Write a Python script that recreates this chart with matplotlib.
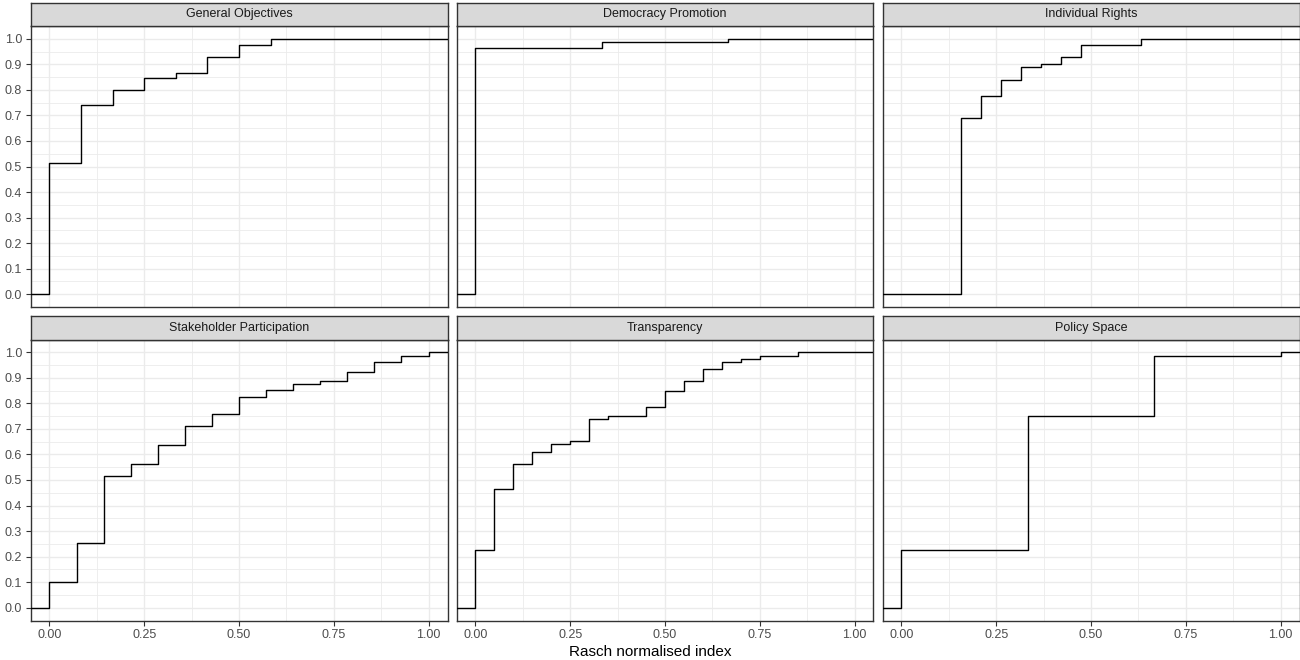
import matplotlib
matplotlib.use("Agg")
import matplotlib.pyplot as plt
import numpy as np

plt.rcParams['font.family'] = ['Liberation Sans', 'DejaVu Sans']

# facet titles, in panel order
panels = ["General Objectives", "Democracy Promotion", "Individual Rights",
          "Stakeholder Participation", "Transparency", "Policy Space"]

# ECDF jump positions (x) and cumulative share after each jump (y)
go_x = [0, 1/12, 2/12, 3/12, 4/12, 5/12, 6/12, 7/12]
go_y = [0.514, 0.739, 0.80, 0.848, 0.865, 0.927, 0.975, 1.0]

dp_x = [0, 1/3, 2/3]
dp_y = [0.963, 0.988, 1.0]

ir_x = [3/19, 4/19, 5/19, 6/19, 7/19, 8/19, 9/19, 12/19]
ir_y = [0.69, 0.775, 0.838, 0.889, 0.902, 0.927, 0.975, 1.0]

sp_x = [i / 14 for i in range(15)]
sp_y = [0.10, 0.253, 0.514, 0.561, 0.638, 0.711, 0.760, 0.826,
        0.852, 0.874, 0.888, 0.924, 0.961, 0.984, 1.0]

tr_x = [0, 0.05, 0.10, 0.15, 0.20, 0.25, 0.30, 0.35, 0.45, 0.50,
        0.55, 0.60, 0.65, 0.70, 0.75, 0.85]
tr_y = [0.225, 0.465, 0.5625, 0.611, 0.639, 0.651, 0.737, 0.749, 0.785,
        0.850, 0.887, 0.936, 0.961, 0.973, 0.984, 1.0]

ps_x = [0, 1/3, 2/3, 1.0]
ps_y = [0.225, 0.749, 0.984, 1.0]

series = [(go_x, go_y), (dp_x, dp_y), (ir_x, ir_y),
          (sp_x, sp_y), (tr_x, tr_y), (ps_x, ps_y)]

x_ticks = [0, 0.25, 0.5, 0.75, 1.0]
x_labels = ["0.00", "0.25", "0.50", "0.75", "1.00"]
y_ticks = [round(0.1 * i, 1) for i in range(11)]
y_labels = ["%.1f" % v for v in y_ticks]

W, H = 1300, 660
fig = plt.figure(figsize=(W / 100, H / 100), dpi=100)

lefts = [30.5, 456.5, 882.5]
pw = 417
rows = [(3, 26, 307), (315.5, 339.5, 620.5)]  # strip top, plot top, plot bottom

xlim = (-0.05, 1.05)
ylim = (-0.05, 1.05)
edge = '#333333'

for i, name in enumerate(panels):
    r, c = divmod(i, 3)
    st, pt, pb = rows[r]
    l = lefts[c]
    ax = fig.add_axes([l / W, 1 - pb / H, pw / W, (pb - pt) / H])
    sax = fig.add_axes([l / W, 1 - pt / H, pw / W, (pt - st) / H])

    xs, ys = series[i]
    sx = [xlim[0]] + list(xs) + [xlim[1]]
    sy = [0] + list(ys) + [ys[-1]]
    ax.step(sx, sy, where='post', color='black', lw=1.0, zorder=3)

    ax.set_xlim(xlim)
    ax.set_ylim(ylim)
    ax.set_xticks(x_ticks)
    ax.set_xticks([0.125, 0.375, 0.625, 0.875], minor=True)
    ax.set_yticks(y_ticks)
    ax.set_yticks(np.arange(0.05, 1.0, 0.1), minor=True)
    ax.grid(which='major', color='#EBEBEB', lw=1.0, zorder=0)
    ax.grid(which='minor', color='#EBEBEB', lw=0.6, zorder=0)
    ax.tick_params(which='minor', length=0)
    ax.tick_params(which='major', length=3.5, width=0.8, color=edge,
                   labelsize=9, labelcolor='#4D4D4D', pad=2.5)
    for s in ax.spines.values():
        s.set_color(edge)
        s.set_linewidth(1.0)

    if c == 0:
        ax.set_yticklabels(y_labels)
    else:
        ax.tick_params(axis='y', length=0, labelleft=False)
    if r == 1:
        ax.set_xticklabels(x_labels)
    else:
        ax.tick_params(axis='x', length=0, labelbottom=False)

    sax.set_facecolor('#D9D9D9')
    sax.set_xticks([])
    sax.set_yticks([])
    for s in sax.spines.values():
        s.set_color(edge)
        s.set_linewidth(1.0)
    sax.text(0.5, 0.5, name, ha='center', va='center', fontsize=9,
             color='#1A1A1A', transform=sax.transAxes)

fig.text(650.5 / W, 1 - 652 / H, "Rasch normalised index", ha='center',
         va='center', fontsize=11, color='black')

fig.savefig("out.png", dpi=100, facecolor='white')
